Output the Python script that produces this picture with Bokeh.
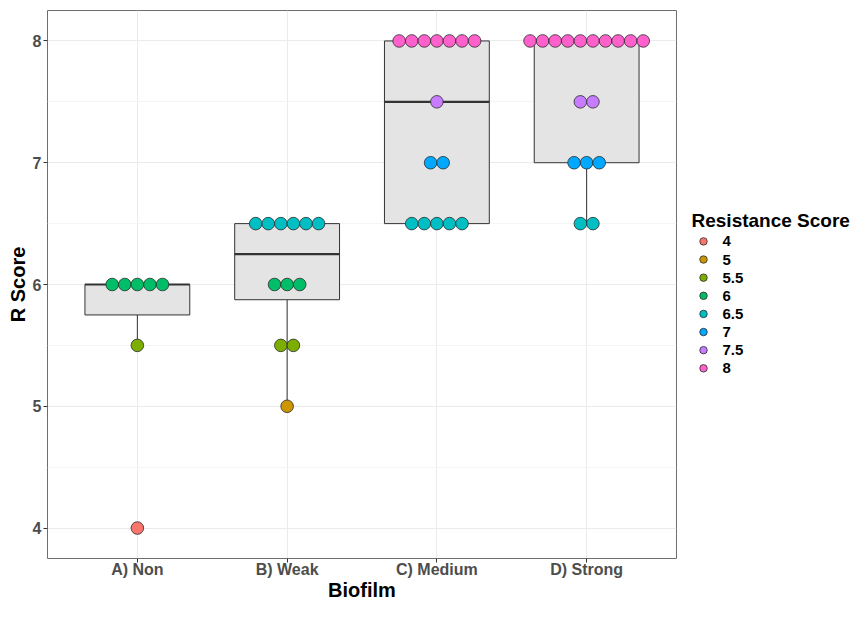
import numpy as np
from bokeh.plotting import figure
from bokeh.layouts import row
from bokeh.models import Range1d, FixedTicker, ColumnDataSource
from bokeh.core.properties import value
from bokeh.embed import file_html
from bokeh.resources import INLINE

# ---- data ----
categories = ["A) Non", "B) Weak", "C) Medium", "D) Strong"]
non_scores = [4, 5.5, 6, 6, 6, 6, 6]
weak_scores = [5, 5.5, 5.5, 6, 6, 6, 6.5, 6.5, 6.5, 6.5, 6.5, 6.5]
medium_scores = [6.5, 6.5, 6.5, 6.5, 6.5, 7, 7, 7.5, 8, 8, 8, 8, 8, 8, 8]
strong_scores = [6.5, 6.5, 7, 7, 7, 7.5, 7.5, 8, 8, 8, 8, 8, 8, 8, 8, 8, 8]
levels = [4, 5, 5.5, 6, 6.5, 7, 7.5, 8]
level_labels = ["4", "5", "5.5", "6", "6.5", "7", "7.5", "8"]
level_colors = ["#F8766D", "#CD9600", "#7CAE00", "#00BE67",
                "#00BFC4", "#00A9FF", "#C77CFF", "#FF61CC"]
y_ticks = [4, 5, 6, 7, 8]
legend_title = "Resistance Score"

groups = [non_scores, weak_scores, medium_scores, strong_scores]
xpos = list(range(1, len(categories) + 1))

FONT = "Liberation Sans"
H = 603
MAIN_W, LEG_W = 677, 175
LEFT, RIGHT, TOP, BOTTOM = 47, 1, 10, 40

p = figure(width=MAIN_W, height=H, output_backend="svg", toolbar_location=None,
           x_range=Range1d(0.4, 4.6), y_range=Range1d(3.75, 8.25),
           min_border_left=LEFT, min_border_right=RIGHT, min_border_top=TOP,
           min_border_bottom=BOTTOM)
p.background_fill_color = "white"
p.border_fill_color = "white"
p.outline_line_color = "#6E6E6E"
p.outline_line_width = 1

# grids
p.xgrid.ticker = FixedTicker(ticks=xpos)
p.xgrid.grid_line_color = "#EBEBEB"
p.xgrid.grid_line_width = 1
p.ygrid.ticker = FixedTicker(ticks=y_ticks, minor_ticks=[3.5, 4.5, 5.5, 6.5, 7.5])
p.ygrid.grid_line_color = "#EBEBEB"
p.ygrid.grid_line_width = 1
p.ygrid.minor_grid_line_color = "#F4F4F4"
p.ygrid.minor_grid_line_width = 1

# axes
p.xaxis.ticker = FixedTicker(ticks=xpos)
p.xaxis.major_label_overrides = {x: c for x, c in zip(xpos, categories)}
p.yaxis.ticker = FixedTicker(ticks=y_ticks)
for ax in (p.xaxis, p.yaxis):
    ax.axis_line_color = None
    ax.major_tick_line_color = "#333333"
    ax.major_tick_out = 4
    ax.major_tick_in = 0
    ax.minor_tick_line_color = None
    ax.major_label_text_font = FONT
    ax.major_label_text_font_style = "bold"
    ax.major_label_text_font_size = "16px"
    ax.major_label_text_color = "#4D4D4D"
    ax.axis_label_text_font = FONT
    ax.axis_label_text_font_style = "bold"
    ax.axis_label_text_font_size = "20px"
    ax.axis_label_text_color = "black"
p.xaxis.major_label_standoff = -2
p.xaxis.axis_label_standoff = -2
p.yaxis.major_label_standoff = 2
p.yaxis.axis_label_standoff = 1
p.xaxis.axis_label = "Biofilm"
p.yaxis.axis_label = "R Score"

# boxplot stats
q1s, meds, q3s, lows, highs = [], [], [], [], []
for g in groups:
    a = np.array(g, dtype=float)
    q1, med, q3 = np.percentile(a, [25, 50, 75])
    iqr = q3 - q1
    lo = a[a >= q1 - 1.5 * iqr].min()
    hi = a[a <= q3 + 1.5 * iqr].max()
    q1s.append(q1); meds.append(med); q3s.append(q3); lows.append(lo); highs.append(hi)

box_src = ColumnDataSource(dict(x=xpos, q1=q1s, med=meds, q3=q3s, lo=lows, hi=highs,
                                x0=[x - 0.35 for x in xpos], x1=[x + 0.35 for x in xpos]))
p.segment(x0="x", x1="x", y0="q3", y1="hi", source=box_src, line_color="#333333", line_width=1)
p.segment(x0="x", x1="x", y0="q1", y1="lo", source=box_src, line_color="#333333", line_width=1)
p.vbar(x="x", width=0.7, bottom="q1", top="q3", source=box_src,
       fill_color="#E4E4E4", line_color="#333333", line_width=1)
p.segment(x0="x0", x1="x1", y0="med", y1="med", source=box_src,
          line_color="#333333", line_width=2.2)

# dots (centered stacks)
step = 0.084
for lv, col in zip(levels, level_colors):
    xs, ys = [], []
    for x, g in zip(xpos, groups):
        n = sum(1 for v in g if v == lv)
        for k in range(n):
            xs.append(x + (k - (n - 1) / 2) * step)
            ys.append(lv)
    p.scatter(x=xs, y=ys, size=12.6, fill_color=col, line_color="#2B2B2B",
              line_width=0.8)

# ---- legend panel (pixel coordinates, y downwards) ----
lg = figure(width=LEG_W, height=H, output_backend="svg", toolbar_location=None,
            x_range=Range1d(0, LEG_W), y_range=Range1d(H - BOTTOM, TOP),
            min_border_left=0, min_border_right=0, min_border_top=TOP,
            min_border_bottom=BOTTOM, outline_line_color=None)
lg.axis.visible = False
lg.grid.visible = False
lg.background_fill_color = "white"
lg.border_fill_color = "white"

title_y = 222
row0, row_step = 243, 18.3
item_y = [row0 + i * row_step for i in range(len(level_labels))]
lg.text(x=[14], y=[title_y], text=[legend_title], text_font=value(FONT),
        text_font_style="bold", text_font_size="19px", text_color="black",
        text_baseline="middle", text_align="left")
lg.scatter(x=[26] * len(level_labels), y=item_y, size=7.5, fill_color=level_colors,
           line_color="#2B2B2B", line_width=0.8)
lg.text(x=[45] * len(level_labels), y=item_y, text=level_labels, text_font=value(FONT),
        text_font_style="bold", text_font_size="15px", text_color="black",
        text_baseline="middle", text_align="left")

layout = row(p, lg)
open("out.html", "w").write(file_html(layout, INLINE))
